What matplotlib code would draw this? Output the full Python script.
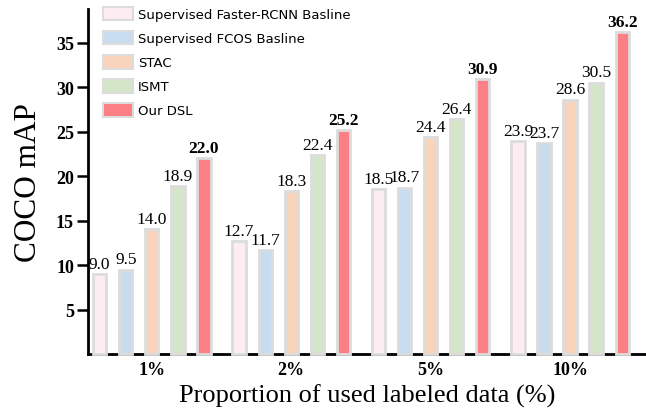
import numpy as np
import matplotlib
matplotlib.use("Agg")
import matplotlib.pyplot as plt
from matplotlib.patches import Patch

# Data
groups = ["1%", "2%", "5%", "10%"]
methods = ["Supervised Faster-RCNN Basline", "Supervised FCOS Basline", "STAC", "ISMT", "Our DSL"]
faster_rcnn = [9.0, 12.7, 18.5, 23.9]
fcos = [9.5, 11.7, 18.7, 23.7]
stac = [14.0, 18.3, 24.4, 28.6]
ismt = [18.9, 22.4, 26.4, 30.5]
dsl = [22.0, 25.2, 30.9, 36.2]
series = [faster_rcnn, fcos, stac, ismt, dsl]

colors = ["#fdedf2", "#c7dcef", "#f8d4bc", "#d5e6c8", "#fb7f84"]
edge = "#dcdcdc"

fig = plt.figure(figsize=(6.46, 4.10), dpi=100)
ax = fig.add_axes([0.136, 0.134, 0.864, 0.842])

x = np.arange(len(groups))
step = 0.187
width = 0.095
for i, (vals, c) in enumerate(zip(series, colors)):
    pos = x + (i - 2) * step
    ax.bar(pos, vals, width, color=c, edgecolor=edge, linewidth=2.0, zorder=3, clip_on=False)
    for p, v in zip(pos, vals):
        bold = i == 4
        ax.text(p, v + 0.25, f"{v:.1f}", ha="center", va="bottom",
                family="Liberation Serif", fontsize=12.5,
                fontweight="bold" if bold else "normal", zorder=4)

ax.set_xlim(-0.459, 3.545)
ax.set_ylim(0, 38.8)
ax.set_xticks(x)
ax.set_xticklabels(groups, family="Liberation Serif", fontweight="bold", fontsize=13)
ax.set_yticks([5, 10, 15, 20, 25, 30, 35])
ax.set_yticklabels([5, 10, 15, 20, 25, 30, 35], family="Liberation Serif", fontweight="bold", fontsize=13)
ax.tick_params(axis="x", length=0, pad=5)
ax.tick_params(axis="y", length=8, width=1.8, pad=2)

for s in ["top", "right"]:
    ax.spines[s].set_visible(False)
for s in ["left", "bottom"]:
    ax.spines[s].set_linewidth(2.0)
    ax.spines[s].set_zorder(2)

ax.set_ylabel("COCO mAP", family="Liberation Serif", fontsize=22.5, labelpad=9)
ax.set_xlabel("Proportion of used labeled data (%)", family="Liberation Serif", fontsize=19, labelpad=4)

handles = [Patch(facecolor=c, edgecolor=edge, linewidth=1.5) for c in colors]
ax.legend(handles, methods, loc="upper left", bbox_to_anchor=(0.027, 1.006), frameon=False,
          prop={"family": "DejaVu Sans", "size": 9.5}, handlelength=2.27, handleheight=1.2,
          labelspacing=0.75, handletextpad=0.4, borderpad=0, borderaxespad=0)

fig.savefig("out.png", dpi=100)
